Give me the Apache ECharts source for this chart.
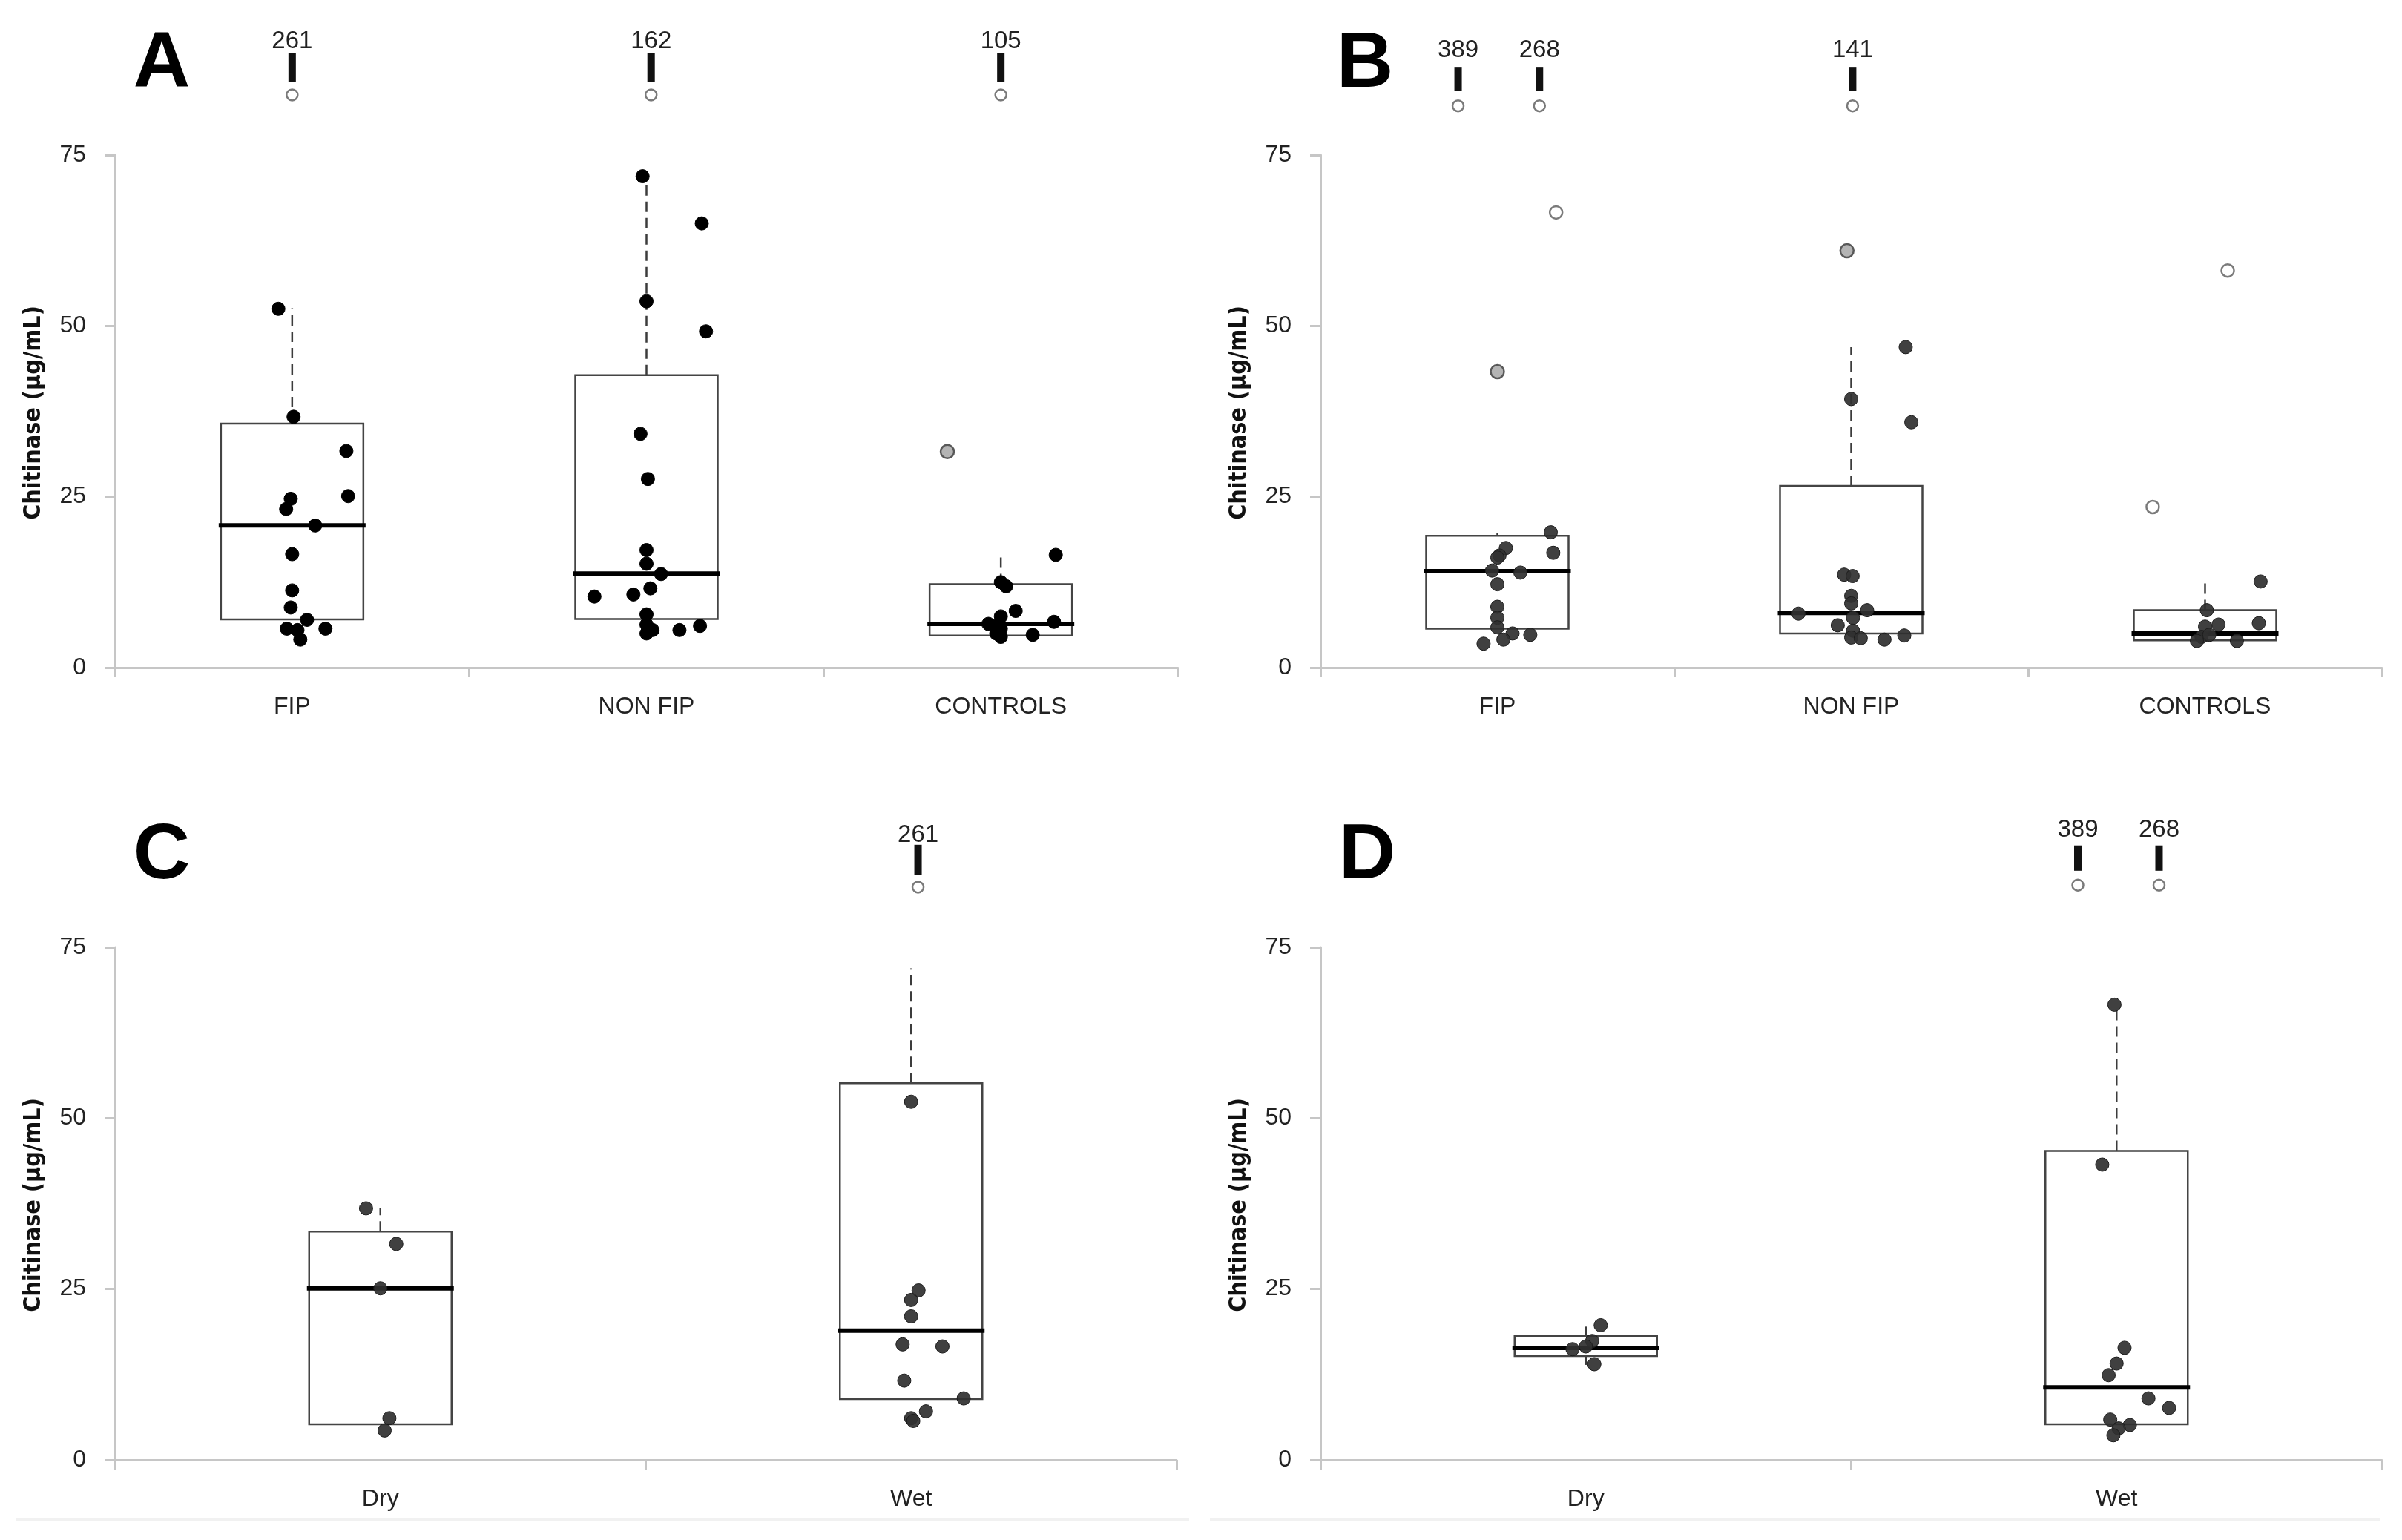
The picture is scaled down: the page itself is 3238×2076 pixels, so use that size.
<!DOCTYPE html>
<html>
<head>
<meta charset="utf-8">
<script src="https://cdn.jsdelivr.net/npm/echarts@6/dist/echarts.min.js"></script>
<style>
html,body{margin:0;padding:0;background:#fff;}
#chart{width:3238px;height:2076px;}
</style>
</head>
<body>
<div id="chart"></div>
<script>
// ---------- categories & ticks ----------
const catsAB = ['FIP', 'NON FIP', 'CONTROLS'];
const catsCD = ['Dry', 'Wet'];
const yMin = 0, yMax = 75, yStep = 25;

// ---------- Panel A (values µg/mL, jitter in category widths) ----------
const A_FIP = [52.5, 36.7, 31.7, 25.1, 24.7, 23.2, 20.8, 16.6, 11.3, 8.8, 7.0, 5.7, 5.7, 5.5, 4.1];
const A_FIP_jit = [-0.039, 0.004, 0.153, 0.158, -0.004, -0.017, 0.065, 0, 0, -0.004, 0.042, -0.015, 0.094, 0.015, 0.023];
const A_NF = [71.9, 65.0, 53.6, 49.2, 34.2, 27.6, 17.2, 15.2, 13.7, 11.6, 10.4, 10.7, 7.8, 6.3, 5.5, 5.0, 5.5, 6.1];
const A_NF_jit = [-0.011, 0.156, 0, 0.168, -0.017, 0.004, 0, 0, 0.041, 0.011, -0.147, -0.037, 0, 0, 0.017, 0, 0.093, 0.151];
const A_CT = [16.5, 12.5, 11.9, 8.3, 7.5, 6.7, 6.4, 6.1, 5.7, 5.0, 4.8, 4.5];
const A_CT_jit = [0.155, 0, 0.015, 0.042, 0, 0.15, -0.035, -0.013, 0, -0.013, 0.09, 0];
// box stats: [lower whisker, Q1, median, Q3, upper whisker]
const A_box = [[7.05, 7.05, 20.8, 35.7, 52.6], [7.1, 7.1, 13.75, 42.8, 72.0], [4.7, 4.7, 6.4, 12.2, 16.3]];
const A_grayV = [31.6], A_grayCat = [2], A_grayJit = [-0.151];
const A_openV = [], A_openCat = [], A_openJit = [];
const A_offLabels = ['261', '162', '105'], A_offCat = [0, 1, 2], A_offJit = [0, 0.013, 0];

// ---------- Panel B ----------
const B_FIP = [19.8, 17.5, 16.4, 16.1, 16.8, 14.2, 13.9, 12.2, 8.9, 7.3, 5.9, 5.0, 4.8, 4.1, 3.5];
const B_FIP_jit = [0.151, 0.024, 0.006, 0, 0.158, -0.015, 0.065, 0, 0, 0, 0, 0.043, 0.093, 0.017, -0.039];
const B_NF = [46.9, 39.3, 35.9, 13.6, 13.4, 10.5, 9.4, 8.4, 7.9, 7.3, 6.2, 5.4, 4.4, 4.3, 4.1, 4.7];
const B_NF_jit = [0.154, 0, 0.17, -0.02, 0.004, 0, 0, 0.045, -0.149, 0.005, -0.038, 0.005, 0, 0.027, 0.094, 0.15];
const B_CT = [12.6, 8.4, 6.5, 6.3, 6.0, 4.5, 4.8, 3.9, 3.9];
const B_CT_jit = [0.157, 0.005, 0.152, 0.038, 0, -0.01, 0.012, -0.023, 0.09];
const B_box = [[5.7, 5.7, 14.1, 19.3, 19.7], [5.0, 5.0, 8.0, 26.6, 46.9], [4.0, 4.0, 5.0, 8.4, 12.6]];
const B_grayV = [43.3, 61.0], B_grayCat = [0, 1], B_grayJit = [0, -0.012];
const B_openV = [66.6, 58.1, 23.5], B_openCat = [0, 2, 2], B_openJit = [0.166, 0.064, -0.148];
const B_offLabels = ['389', '268', '141'], B_offCat = [0, 0, 1], B_offJit = [-0.111, 0.119, 0.004];

// ---------- Panel C ----------
const C_DRY = [36.8, 31.6, 25.1, 6.1, 4.3];
const C_DRY_jit = [-0.027, 0.03, 0, 0.017, 0.008];
const C_WET = [52.4, 24.8, 23.4, 21.0, 16.9, 16.6, 11.6, 9.0, 7.1, 6.1, 5.7];
const C_WET_jit = [0, 0.014, 0, 0, -0.016, 0.059, -0.013, 0.099, 0.028, 0, 0.004];
const C_box = [[5.2, 5.2, 25.1, 33.4, 36.9], [8.9, 8.9, 18.9, 55.1, 71.9]];
const C_grayV = [], C_grayCat = [], C_grayJit = [];
const C_openV = [], C_openCat = [], C_openJit = [];
const C_offLabels = ['261'], C_offCat = [1], C_offJit = [0.013];

// ---------- Panel D ----------
const D_DRY = [19.7, 17.4, 16.6, 16.2, 14.0];
const D_DRY_jit = [0.028, 0.012, 0, -0.025, 0.016];
const D_WET = [66.6, 43.2, 16.4, 14.1, 12.4, 9.0, 7.6, 5.9, 5.1, 4.6, 3.6];
const D_WET_jit = [-0.004, -0.027, 0.015, 0, -0.015, 0.06, 0.099, -0.012, 0.025, 0.004, -0.006];
const D_box = [[13.9, 15.2, 16.4, 18.1, 19.5], [5.2, 5.2, 10.6, 45.2, 66.6]];
const D_grayV = [], D_grayCat = [], D_grayJit = [];
const D_openV = [], D_openCat = [], D_openJit = [];
const D_offLabels = ['389', '268'], D_offCat = [1, 1], D_offJit = [-0.073, 0.080];

// ---------- layout & style (not data) ----------
const GRIDS = [
  {left: 155, top: 209, width: 1433, height: 691},
  {left: 1780, top: 209, width: 1431, height: 691},
  {left: 155, top: 1277, width: 1431, height: 691},
  {left: 1780, top: 1277, width: 1431, height: 691}
];
// off-scale marker placement (display positions in axis units)
const BREAKS = [
  {circle: 83.8, lo: 85.7, hi: 89.9, label: 91.6},
  {circle: 82.2, lo: 84.4, hi: 87.9, label: 90.3},
  {circle: 83.8, lo: 85.6, hi: 90.0, label: 91.4},
  {circle: 84.1, lo: 86.2, hi: 89.9, label: 92.2}
];
const LETTER_POS = [[218, 88], [1840, 88], [218, 1155], [1843, 1155]];
const BOX_W = 192;
const AX_COLOR = '#c6c6c6';
const FONT = "'Liberation Sans', Arial, sans-serif";

const panels = [
  {cats: catsAB, groups: [[A_FIP, A_FIP_jit], [A_NF, A_NF_jit], [A_CT, A_CT_jit]], box: A_box,
   gray: [A_grayV, A_grayCat, A_grayJit], open: [A_openV, A_openCat, A_openJit],
   off: [A_offLabels, A_offCat, A_offJit], dot: '#000000', dotBorder: '#000000'},
  {cats: catsAB, groups: [[B_FIP, B_FIP_jit], [B_NF, B_NF_jit], [B_CT, B_CT_jit]], box: B_box,
   gray: [B_grayV, B_grayCat, B_grayJit], open: [B_openV, B_openCat, B_openJit],
   off: [B_offLabels, B_offCat, B_offJit], dot: 'rgba(48,48,48,0.92)', dotBorder: '#1c1c1c'},
  {cats: catsCD, groups: [[C_DRY, C_DRY_jit], [C_WET, C_WET_jit]], box: C_box,
   gray: [C_grayV, C_grayCat, C_grayJit], open: [C_openV, C_openCat, C_openJit],
   off: [C_offLabels, C_offCat, C_offJit], dot: 'rgba(48,48,48,0.92)', dotBorder: '#1c1c1c'},
  {cats: catsCD, groups: [[D_DRY, D_DRY_jit], [D_WET, D_WET_jit]], box: D_box,
   gray: [D_grayV, D_grayCat, D_grayJit], open: [D_openV, D_openCat, D_openJit],
   off: [D_offLabels, D_offCat, D_offJit], dot: 'rgba(48,48,48,0.92)', dotBorder: '#1c1c1c'}
];

const grid = [], xAxis = [], yAxis = [], series = [], graphic = [];

panels.forEach((P, p) => {
  grid.push(Object.assign({containLabel: false}, GRIDS[p]));
  // visible category axis
  xAxis.push({
    type: 'category', gridIndex: p, data: P.cats, boundaryGap: true,
    axisLine: {show: true, lineStyle: {color: AX_COLOR, width: 3}},
    axisTick: {show: true, length: 13, interval: 0, lineStyle: {color: AX_COLOR, width: 3}},
    axisLabel: {interval: 0, margin: 37, fontFamily: FONT, fontSize: 32, color: '#222'},
    splitLine: {show: false}
  });
  // hidden continuous axis for jittered positions
  xAxis.push({type: 'value', gridIndex: p, min: 0, max: P.cats.length, show: false});
  yAxis.push({
    type: 'value', gridIndex: p, min: yMin, max: yMax, interval: yStep,
    axisLine: {show: true, lineStyle: {color: AX_COLOR, width: 3}},
    axisTick: {show: true, length: 14, lineStyle: {color: AX_COLOR, width: 3}},
    splitLine: {show: false},
    axisLabel: {margin: 39, fontFamily: FONT, fontSize: 32, color: '#222'}
  });

  const xi = 2 * p + 1;
  // boxes
  series.push({
    type: 'custom', xAxisIndex: xi, yAxisIndex: p, z: 2,
    data: P.box.map((b, i) => [i, b[0], b[1], b[2], b[3], b[4]]),
    renderItem: function (params, api) {
      const i = api.value(0);
      const lo = api.value(1), q1 = api.value(2), med = api.value(3), q3 = api.value(4), hi = api.value(5);
      const cx = api.coord([i + 0.5, 0])[0];
      const Y = v => api.coord([i + 0.5, v])[1];
      const hw = BOX_W / 2;
      const ch = [];
      if (hi > q3) ch.push({type: 'line', shape: {x1: cx, y1: Y(q3), x2: cx, y2: Y(hi)},
        style: {stroke: '#3c3c3c', lineWidth: 2.5, lineDash: [14, 8]}});
      if (lo < q1) ch.push({type: 'line', shape: {x1: cx, y1: Y(q1), x2: cx, y2: Y(lo)},
        style: {stroke: '#3c3c3c', lineWidth: 2.5, lineDash: [14, 8]}});
      ch.push({type: 'rect', shape: {x: cx - hw, y: Y(q3), width: BOX_W, height: Y(q1) - Y(q3)},
        style: {fill: '#ffffff', stroke: '#444444', lineWidth: 2.5}});
      ch.push({type: 'line', shape: {x1: cx - hw - 3, y1: Y(med), x2: cx + hw + 3, y2: Y(med)},
        style: {stroke: '#000000', lineWidth: 6}});
      return {type: 'group', children: ch};
    }
  });
  // regular points
  const pts = [];
  P.groups.forEach((g, i) => g[0].forEach((v, k) => pts.push([i + 0.5 + g[1][k], v])));
  series.push({
    type: 'scatter', xAxisIndex: xi, yAxisIndex: p, z: 3, data: pts, symbol: 'circle', symbolSize: 18,
    itemStyle: {color: P.dot, borderColor: P.dotBorder, borderWidth: 1, opacity: 1}
  });
  // gray (mild outlier) points
  series.push({
    type: 'scatter', xAxisIndex: xi, yAxisIndex: p, z: 3, symbol: 'circle', symbolSize: 18,
    data: P.gray[0].map((v, k) => [P.gray[1][k] + 0.5 + P.gray[2][k], v]),
    itemStyle: {color: '#b4b4b4', borderColor: '#585858', borderWidth: 2.5, opacity: 1}
  });
  // open (extreme outlier) points
  series.push({
    type: 'scatter', xAxisIndex: xi, yAxisIndex: p, z: 3, symbol: 'circle', symbolSize: 17,
    data: P.open[0].map((v, k) => [P.open[1][k] + 0.5 + P.open[2][k], v]),
    itemStyle: {color: '#ffffff', borderColor: '#7a7a7a', borderWidth: 2.5, opacity: 1}
  });
  // off-scale outliers (labelled)
  const B = BREAKS[p];
  series.push({
    type: 'custom', xAxisIndex: xi, yAxisIndex: p, z: 4, clip: false,
    data: P.off[0].map((lab, k) => [P.off[1][k] + 0.5 + P.off[2][k], lab]),
    renderItem: function (params, api) {
      const x = api.coord([api.value(0), 0])[0];
      const lab = P.off[0][params.dataIndex];
      const yC = api.coord([0, B.circle])[1];
      const yLo = api.coord([0, B.lo])[1];
      const yHi = api.coord([0, B.hi])[1];
      const yL = api.coord([0, B.label])[1];
      return {type: 'group', children: [
        {type: 'rect', shape: {x: x - 5, y: yHi, width: 10, height: yLo - yHi}, style: {fill: '#111111'}},
        {type: 'circle', shape: {cx: x, cy: yC, r: 7.5}, style: {fill: '#ffffff', stroke: '#7a7a7a', lineWidth: 2.5}},
        {type: 'text', style: {text: lab, x: x, y: yL, align: 'center', verticalAlign: 'middle',
          fontFamily: FONT, fontSize: 33, fill: '#222'}}
      ]};
    }
  });

  // y-axis title
  const G = GRIDS[p];
  graphic.push({
    type: 'text', x: G.left - 109, y: G.top + G.height / 2 + 2, rotation: Math.PI / 2,
    style: {text: 'Chitinase (µg/mL)', align: 'center', verticalAlign: 'middle',
      fontFamily: "'DejaVu Sans Condensed', 'DejaVu Sans', sans-serif", fontWeight: 'bold', fontSize: 32, fill: '#111'}
  });
  // panel letter
  graphic.push({
    type: 'text', x: LETTER_POS[p][0], y: LETTER_POS[p][1],
    style: {text: ['A', 'B', 'C', 'D'][p], align: 'center', verticalAlign: 'middle',
      fontFamily: "'Liberation Sans', Arial, sans-serif", fontWeight: 'bold', fontSize: 106, fill: '#000'}
  });
});

// faint bottom rules
graphic.push({type: 'rect', shape: {x: 21, y: 2046, width: 1582, height: 4}, style: {fill: '#f1f1f1'}});
graphic.push({type: 'rect', shape: {x: 1631, y: 2046, width: 1577, height: 4}, style: {fill: '#f1f1f1'}});

const chart = echarts.init(document.getElementById('chart'), null, {renderer: 'canvas'});
chart.setOption({
  backgroundColor: '#ffffff',
  animation: false,
  grid: grid, xAxis: xAxis, yAxis: yAxis, series: series, graphic: graphic
});
</script>
</body>
</html>
